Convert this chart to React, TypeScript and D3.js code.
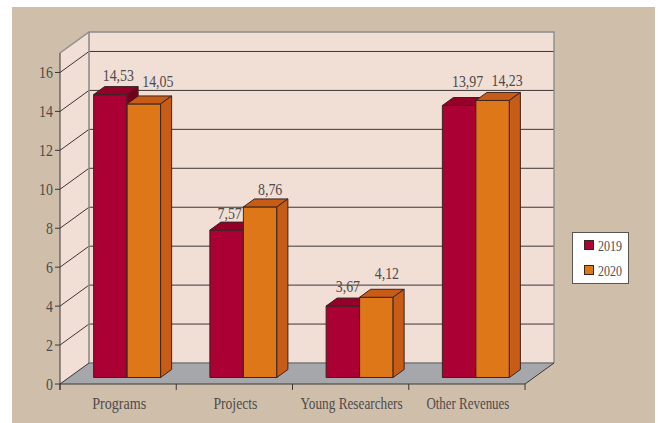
import React from 'react';
import * as d3 from 'd3';

const categories = ['Programs', 'Projects', 'Young Researchers', 'Other Revenues'];
const years = ['2019', '2020'];
const values2019 = [14.53, 7.57, 3.67, 13.97];
const values2020 = [14.05, 8.76, 4.12, 14.23];
const yTicks = [0, 2, 4, 6, 8, 10, 12, 14, 16];

// hand placed label offsets from the bar centre / bar top, as in the original
const labelDx = [[8, 3, 5, 8.5], [14, 10, 10.5, 14.5]];
const labelDy = [[14, 11, 14, 18], [17, 12, 18, 14]];
// the original face is narrower than Liberation Serif, so fit the long labels
const categoryLabelWidths = [54, 44, 102, 83];

const fills = [
  { front: '#aa0033', top: '#94002a', side: '#75001c' },
  { front: '#de7718', top: '#c75c17', side: '#c75c17' },
];

const WALL = '#f1ded5';
const FLOOR = '#a5a7aa';
const BG = '#cfbfaa';
const TEXT = '#4f4a4a';
const SERIF = '"Liberation Serif", serif';

const width = 660;
const height = 423;
const front = { left: 60, right: 525, bottom: 384, top: 53 };
const depth = { x: 29, y: -21 };

const x = d3.scaleBand<string>().domain(categories).range([front.left, front.right]);
const y = d3.scaleLinear().domain([0, 17]).range([front.bottom, front.top]);

const barWidth = 33.5;
const barZ = 0.31; // where the bar's front face sits inside the depth
const barDepth = 0.38;

const pts = (p: number[][]) => p.map(d => d.join(',')).join(' ');

function Label({ x, y, anchor = 'middle', size = 16, squeeze = 0.87, fit, children }: any) {
  return (
    <text
      transform={`translate(${x},${y}) scale(${fit ? 1 : squeeze},1)`}
      textAnchor={anchor}
      fontFamily={SERIF}
      fontSize={size}
      fill={TEXT}
      textLength={fit}
      lengthAdjust={fit ? 'spacingAndGlyphs' : undefined}
    >
      {children}
    </text>
  );
}

export default function App() {
  const series = [values2019, values2020];
  const backX = front.left + depth.x;
  const backRight = front.right + depth.x;
  const backBottom = front.bottom + depth.y;
  const backTop = front.top + depth.y;

  return (
    <svg width={width} height={height} style={{ position: 'absolute', left: 0, top: 0 }}>
      <rect x={12} y={7} width={643} height={416} fill={BG} />

      {/* walls */}
      <polygon
        points={pts([[front.left, front.bottom], [front.left, front.top], [backX, backTop], [backX, backBottom]])}
        fill={WALL}
      />
      <rect x={backX} y={backTop} width={backRight - backX} height={backBottom - backTop} fill={WALL} />

      {/* grid */}
      {yTicks.filter(t => t > 0).map(t => (
        <polyline
          key={t}
          points={pts([[front.left, y(t)], [backX, y(t) + depth.y], [backRight, y(t) + depth.y]])}
          fill="none"
          stroke="#3d3636"
          strokeWidth={1}
        />
      ))}

      {/* wall outline */}
      <polyline
        points={pts([[front.left, front.top], [backX, backTop], [backRight, backTop], [backRight, backBottom]])}
        fill="none"
        stroke="#8c8c8c"
        strokeWidth={1.4}
      />
      <line x1={backX} x2={backX} y1={backTop} y2={backBottom} stroke="#8c8c8c" strokeWidth={1.6} />

      {/* floor */}
      <polygon
        points={pts([[front.left, front.bottom], [backX, backBottom], [backRight, backBottom], [front.right, front.bottom]])}
        fill={FLOOR}
      />
      <line x1={backX} x2={backRight} y1={backBottom} y2={backBottom} stroke="#77777a" strokeWidth={1.4} />
      <polyline
        points={pts([[backRight, backBottom], [front.right, front.bottom], [front.left, front.bottom], [backX, backBottom]])}
        fill="none"
        stroke="#3d3636"
        strokeWidth={1}
      />

      {/* bars */}
      {categories.map((c, i) => {
        const center = (x(c) as number) + x.bandwidth() / 2;
        const xs = d3.scaleBand<string>().domain(years).range([center - barWidth, center + barWidth]);
        return years.map((yr, s) => {
          const v = series[s][i];
          const x0 = (xs(yr) as number) + depth.x * barZ;
          const x1 = x0 + xs.bandwidth();
          const yTop = y(v) + depth.y * barZ;
          const yBase = y(0) + depth.y * barZ;
          const dx = depth.x * barDepth;
          const dy = depth.y * barDepth;
          const f = fills[s];
          return (
            <g key={c + yr} stroke="#3a2420" strokeWidth={1} strokeLinejoin="round">
              <rect x={x0} y={yTop} width={x1 - x0} height={yBase - yTop} fill={f.front} />
              <polygon points={pts([[x0, yTop], [x0 + dx, yTop + dy], [x1 + dx, yTop + dy], [x1, yTop]])} fill={f.top} />
              <polygon points={pts([[x1, yTop], [x1 + dx, yTop + dy], [x1 + dx, yBase + dy], [x1, yBase]])} fill={f.side} />
            </g>
          );
        });
      })}

      {/* value labels */}
      {categories.map((c, i) => {
        const center = (x(c) as number) + x.bandwidth() / 2;
        const xs = d3.scaleBand<string>().domain(years).range([center - barWidth, center + barWidth]);
        return years.map((yr, s) => (
          <Label
            key={c + yr}
            x={(xs(yr) as number) + depth.x * barZ + xs.bandwidth() / 2 + labelDx[s][i]}
            y={y(series[s][i]) + depth.y * barZ - labelDy[s][i]}
          >
            {series[s][i].toFixed(2).replace('.', ',')}
          </Label>
        ));
      })}

      {/* axes */}
      <line x1={front.left} x2={front.left} y1={front.top} y2={front.bottom + 6} stroke="#3d3636" />
      {yTicks.map(t => (
        <g key={t}>
          <line x1={front.left - 5} x2={front.left} y1={y(t)} y2={y(t)} stroke="#3d3636" />
          <Label x={front.left - 7} y={y(t) + 6} anchor="end">{t}</Label>
        </g>
      ))}
      {[...categories.map(c => x(c) as number), front.right].map(px => (
        <line key={px} x1={px} x2={px} y1={front.bottom} y2={front.bottom + 6} stroke="#3d3636" />
      ))}
      {categories.map((c, i) => (
        <Label key={c} x={(x(c) as number) + x.bandwidth() / 2 + 1} y={409} fit={categoryLabelWidths[i]}>{c}</Label>
      ))}

      {/* legend */}
      <rect x={572.5} y={232.5} width={56} height={51} fill="#fff" stroke="#5a5555" strokeWidth={1} />
      {years.map((yr, s) => (
        <g key={yr}>
          <rect x={584.5} y={240.5 + s * 25} width={9} height={9} fill={fills[s].front} stroke="#3a2420" />
          <Label x={598} y={251 + s * 25} anchor="start" size={15} squeeze={0.8}>{yr}</Label>
        </g>
      ))}
    </svg>
  );
}
